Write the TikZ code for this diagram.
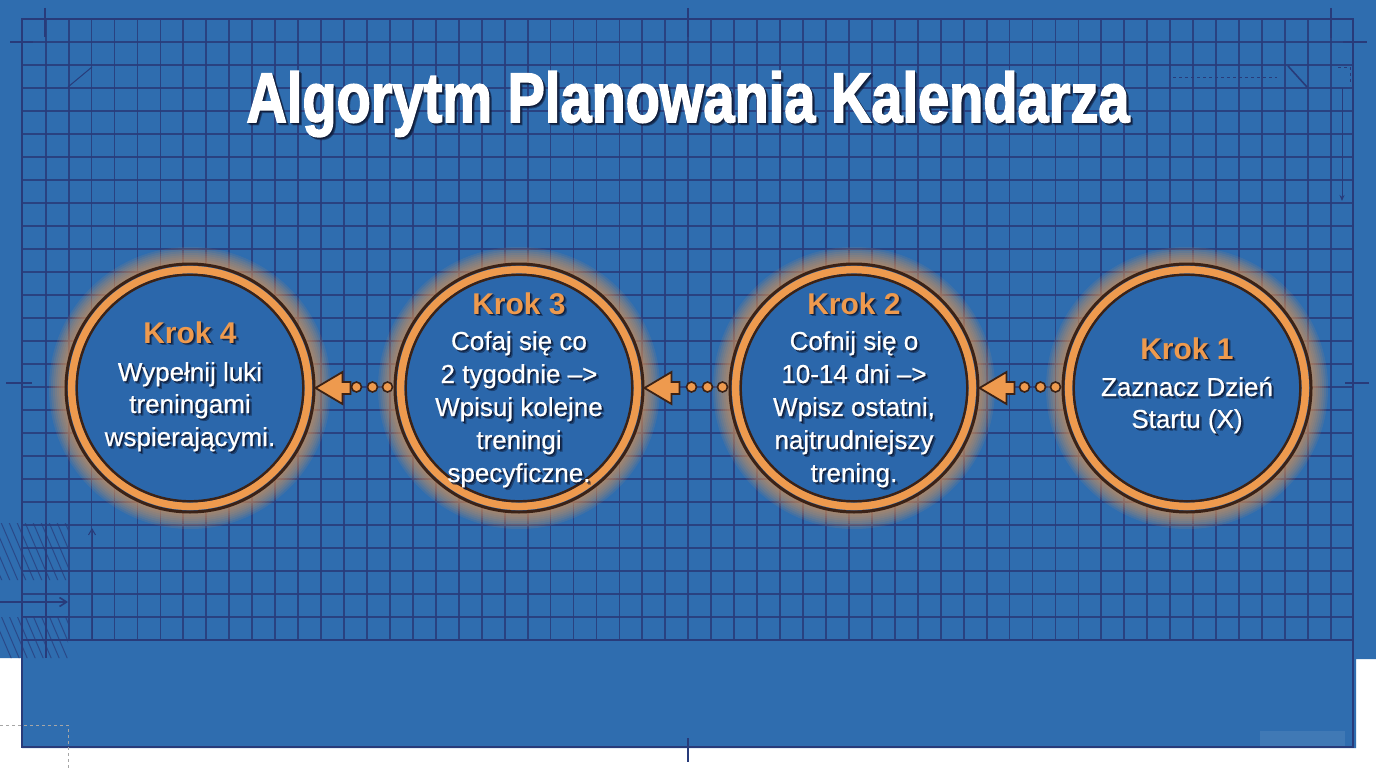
\documentclass[tikz,border=0pt]{standalone}
\usepackage{fontspec}
\usepackage{graphicx}
\setmainfont{Liberation Sans}
\usetikzlibrary{calc,arrows.meta}
\definecolor{bgblue}{HTML}{2F6DAF}
\definecolor{inblue}{HTML}{2B67AB}
\definecolor{gridc}{HTML}{283B7A}
\definecolor{orng}{HTML}{EE9A4E}
\definecolor{dkbrown}{HTML}{3B2216}
\definecolor{shad}{HTML}{0E1A36}
\newcommand{\stxt}[5][bodytxt]{%
  \node[#1, shad, opacity=.45] (#2s2) at ($(#3,#4)+(2.6,2.6)$) {#5};
  \node[#1, shad, opacity=.8] (#2s) at ($(#3,#4)+(1.4,1.4)$) {#5};
  \node[#1] (#2) at (#3,#4) {#5};}
\tikzset{
  gridline/.style={gridc, line width=1.8pt, opacity=.85},
  frame/.style={gridc, line width=2.6pt},
  deco/.style={gridc, line width=1.6pt},
  bodytxt/.style={anchor=base, inner sep=0pt, text=white, font=\fontsize{26}{30}\selectfont\addfontfeature{FakeBold=0.6}},
  headtxt/.style={anchor=base, inner sep=0pt, text=orng, font=\fontsize{30}{32}\selectfont\bfseries},
  titletxt/.style={anchor=base, inner sep=0pt, text=white, font=\fontsize{70}{80}\selectfont\bfseries\addfontfeature{FakeBold=2.5}},
  stepc/.style={circle, minimum size=248pt, inner sep=0pt, fill=inblue, draw=dkbrown, line width=3pt},
  dotst/.style={fill=orng, draw=dkbrown, line width=1.6pt},
  arrst/.style={fill=orng, draw=dkbrown, line width=1.8pt, line join=miter},
}
\begin{document}
\begin{tikzpicture}[x=1pt,y=-1pt]
\useasboundingbox (0,0) rectangle (1376,768);
\fill[white] (0,0) rectangle (1376,768);
\fill[bgblue] (0,0) -- (1376,0) -- (1376,659) -- (1356,659) -- (1356,748) -- (22,748) -- (22,658) -- (0,658) -- cycle;
\fill[bgblue!92!white] (1260,731) rectangle (1345,746);
% grid
\foreach \k in {1,...,57} \draw[gridline] ({22.7+22.95*\k},19) -- ({22.7+22.95*\k},640);
\foreach \k in {1,...,26} \draw[gridline] (22,{19.3+23*\k}) -- (1353,{19.3+23*\k});
\draw[frame] (22,640) -- (1353,640);
\draw[frame] (22,19) rectangle (1353,747);
% marks
\draw[deco] (45,8) -- (45,37);
\draw[deco] (10,42) -- (33,42);
\draw[deco] (1331,8) -- (1331,38);
\draw[deco] (1343,42) -- (1367,42);
\draw[deco] (688,8) -- (688,37);
\draw[deco] (688,738) -- (688,762);
\draw[deco] (6,383) -- (32,383);
\draw[deco] (1345,383) -- (1369,383);
\draw[deco, line width=1pt] (68,87) -- (92,67);
\draw[deco, line width=1pt, dashed] (1173,78) -- (1277,78);
\draw[deco, line width=1.6pt] (1288,66) -- (1307,87);
\draw[deco, line width=.8pt, dashed] (1338,67) -- (1350,67) -- (1350,85);
\draw[deco, line width=1pt, -{Stealth[length=6pt,width=5pt]}] (1342,88) -- (1342,201);
% lower-left hatching
\begin{scope}
  \clip (0,523) rectangle (68,580) (0,617) rectangle (68,658);
  \foreach \k in {-6,...,16} \draw[gridc, line width=1pt, opacity=.7] ({\k*8},520) -- ({\k*8+60},660);
\end{scope}
\draw[deco] (46,523) -- (46,658);
\draw[deco, -{Straight Barb[length=7pt,width=9pt]}] (0,602) -- (68,602);
\draw[deco, line width=1pt, -{Straight Barb[length=6pt,width=7pt]}] (92,640) -- (92,528);
\draw[deco, line width=1pt] (68,616) -- (22,616);
\draw[gray!70, line width=.8pt, dashed] (0,725) -- (68,725) -- (68,768);
% title
\stxt[titletxt]{title}{688}{122}{\resizebox{883pt}{\height}{Algorytm Planowania Kalendarza}}
% circles
\foreach \n/\cx in {k4/190,k3/519,k2/854,k1/1187}{
  \foreach \r in {125,127,...,141} \fill[orng, opacity=.11] (\cx,388) circle (\r);
  \node[stepc] (\n) at (\cx,388) {};
  \draw[orng, line width=7.5pt] (\n.center) circle (118.3);
  \draw[dkbrown, line width=2.4pt] (\n.center) circle (113.3);
}
% connectors
\foreach \a/\b in {k1/k2,k2/k3,k3/k4}{
  \filldraw[arrst] (\b.east) -- ++(27,-16) -- ++(0,10) -- ++(8,0) -- ++(0,12) -- ++(-8,0) -- ++(0,10) -- cycle;
  \foreach \d in {6,21,37} \filldraw[dotst] ($(\a.west)+(-\d,-1)$) circle (5);
}
% texts
\stxt[headtxt]{k4h}{190}{343}{Krok 4}
\stxt{k4a}{190}{381}{Wypełnij luki}
\stxt{k4b}{190}{413}{treningami}
\stxt{k4c}{190}{446}{wspierającymi.}
\stxt[headtxt]{k3h}{519}{314}{Krok 3}
\stxt{k3a}{519}{350}{Cofaj się co}
\stxt{k3b}{519}{383}{2 tygodnie –>}
\stxt{k3c}{519}{416}{Wpisuj kolejne}
\stxt{k3d}{519}{449}{treningi}
\stxt{k3e}{519}{482}{specyficzne.}
\stxt[headtxt]{k2h}{854}{314}{Krok 2}
\stxt{k2a}{854}{350}{Cofnij się o}
\stxt{k2b}{854}{383}{10-14 dni –>}
\stxt{k2c}{854}{416}{Wpisz ostatni,}
\stxt{k2d}{854}{449}{najtrudniejszy}
\stxt{k2e}{854}{482}{trening.}
\stxt[headtxt]{k1h}{1187}{359}{Krok 1}
\stxt{k1a}{1187}{396}{Zaznacz Dzień}
\stxt{k1b}{1187}{428}{Startu (X)}
\end{tikzpicture}
\end{document}
